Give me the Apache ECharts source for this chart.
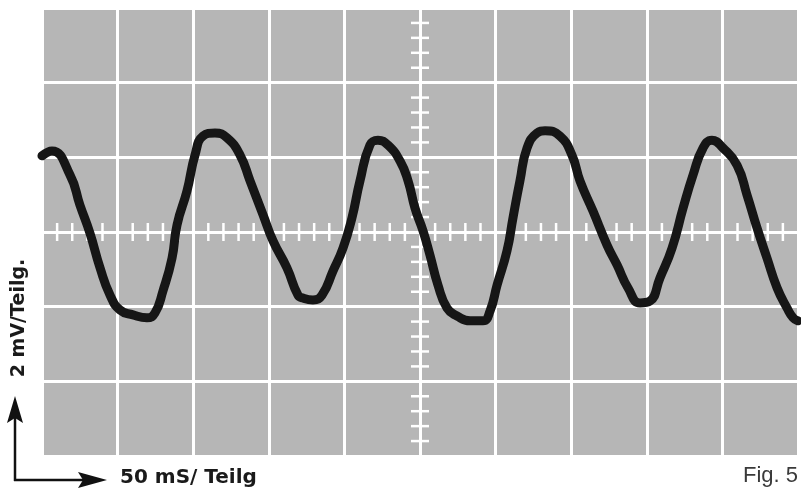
<!DOCTYPE html>
<html>
<head>
<meta charset="utf-8">
<script src="https://cdn.jsdelivr.net/npm/echarts@6/dist/echarts.min.js"></script>
<style>
  html, body { margin: 0; padding: 0; background: #ffffff; }
  #chart { width: 801px; height: 492px; }
</style>
</head>
<body>
<div id="chart"></div>
<script>
// Time in ms (50 ms per division), voltage in mV (2 mV per division)
const timeMs = [0, 6.6, 18.5, 25.1, 31.7, 38.4, 45.0, 51.6, 60.2, 69.4, 74.7, 80.0, 86.0, 89.3, 95.9, 101.2, 106.5, 114.4, 122.4, 131.0, 137.6, 146.2, 152.8, 162.0, 169.3, 172.6, 179.2, 185.2, 192.5, 199.1, 205.0, 210.3, 216.9, 222.2, 228.8, 236.8, 242.1, 246.7, 252.0, 256.6, 261.9, 267.9, 274.5, 283.1, 291.7, 296.3, 301.0, 307.5, 311.5, 316.1, 320.8, 327.4, 332.7, 342.6, 350.5, 355.8, 364.4, 373.7, 380.3, 387.6, 395.5, 402.1, 408.7, 416.7, 424.0, 430.6, 437.2, 443.1, 450.4, 459.7, 466.3, 472.9, 479.5, 486.2, 492.8, 496.8, 500];
const voltMv = [2.04, 2.17, 1.53, 0.72, -0.03, -0.96, -1.69, -2.09, -2.22, -2.30, -2.17, -1.58, -0.70, 0.19, 1.10, 2.06, 2.57, 2.65, 2.52, 2.06, 1.37, 0.46, -0.24, -0.96, -1.69, -1.77, -1.82, -1.69, -1.04, -0.43, 0.38, 1.37, 2.33, 2.46, 2.33, 1.90, 1.37, 0.64, 0.03, -0.62, -1.42, -2.04, -2.25, -2.38, -2.38, -2.12, -1.42, -0.51, 0.38, 1.37, 2.25, 2.65, 2.71, 2.57, 2.06, 1.37, 0.56, -0.35, -0.88, -1.50, -1.90, -1.85, -1.23, -0.43, 0.64, 1.53, 2.25, 2.46, 2.25, 1.79, 0.99, 0.11, -0.70, -1.50, -2.04, -2.30, -2.38];

// Graticule: minor ticks on the centre cross
const centerTimeMs = 250;
const centerVoltMv = 0;
const minorTicksMs = [10,20,30,40,60,70,80,90,110,120,130,140,160,170,180,190,210,220,230,240,260,270,280,290,310,320,330,340,360,370,380,390,410,420,430,440,460,470,480,490];
const minorTicksMv = [-5.6,-5.2,-4.8,-4.4,-3.6,-3.2,-2.8,-2.4,-1.6,-1.2,-0.8,-0.4,0.4,0.8,1.2,1.6,2.4,2.8,3.2,3.6,4.4,4.8,5.2,5.6];

const xLabel = '50 mS/ Teilg';
const yLabel = '2 mV/Teilg.';
const figLabel = 'Fig. 5';

const traceData = timeMs.map((t, i) => [t, voltMv[i]]);
const tickData = minorTicksMs.map(t => [t, centerVoltMv, 0])
  .concat(minorTicksMv.map(v => [centerTimeMs, v, 1]));

const chart = echarts.init(document.getElementById('chart'), null, { renderer: 'canvas' });

const option = {
  backgroundColor: '#ffffff',
  animation: false,
  grid: {
    left: 42, right: 3, top: 8, bottom: 36,
    show: true, backgroundColor: '#b6b6b6', borderWidth: 0
  },
  xAxis: {
    type: 'value', min: 0, max: 500, interval: 50,
    axisLine: { show: false }, axisTick: { show: false }, axisLabel: { show: false },
    splitLine: { show: true, lineStyle: { color: '#ffffff', width: 3 } }
  },
  yAxis: {
    type: 'value', min: -6, max: 6, interval: 2,
    axisLine: { show: false }, axisTick: { show: false }, axisLabel: { show: false },
    splitLine: { show: true, lineStyle: { color: '#ffffff', width: 3 } }
  },
  series: [
    {
      type: 'custom',
      silent: true,
      z: 1,
      data: tickData,
      renderItem: function (params, api) {
        const p = api.coord([api.value(0), api.value(1)]);
        const half = 9;
        const vertical = api.value(2) === 0;
        return {
          type: 'line',
          shape: vertical
            ? { x1: p[0], y1: p[1] - half, x2: p[0], y2: p[1] + half }
            : { x1: p[0] - half, y1: p[1], x2: p[0] + half, y2: p[1] },
          style: { stroke: '#ffffff', lineWidth: 2.5 }
        };
      }
    },
    {
      type: 'line',
      z: 3,
      data: traceData,
      smooth: 0.5,
      symbol: 'none',
      lineStyle: { color: '#161616', width: 9, cap: 'round', join: 'round' }
    }
  ],
  graphic: [
    { type: 'line', shape: { x1: 15, y1: 481, x2: 15, y2: 415 }, style: { stroke: '#111', lineWidth: 2.5 } },
    { type: 'polygon', shape: { points: [[15, 396], [7, 423], [15, 418], [23, 423]] }, style: { fill: '#111' } },
    { type: 'line', shape: { x1: 14, y1: 480, x2: 85, y2: 480 }, style: { stroke: '#111', lineWidth: 2.5 } },
    { type: 'polygon', shape: { points: [[107, 480], [78, 472], [83, 480], [78, 488]] }, style: { fill: '#111' } },
    {
      type: 'text', x: 120, y: 478,
      style: { text: xLabel, font: 'bold 20px "DejaVu Sans"', fill: '#1a1a1a', textAlign: 'left', textVerticalAlign: 'middle' }
    },
    {
      type: 'text', x: 19, y: 318, rotation: Math.PI / 2,
      style: { text: yLabel, font: 'bold 19px "DejaVu Sans"', fill: '#1a1a1a', textAlign: 'center', textVerticalAlign: 'middle' }
    },
    {
      type: 'text', x: 798, y: 476,
      style: { text: figLabel, font: '22px "Liberation Sans"', fill: '#3a3a3a', textAlign: 'right', textVerticalAlign: 'middle' }
    }
  ]
};

chart.setOption(option);
</script>
</body>
</html>
